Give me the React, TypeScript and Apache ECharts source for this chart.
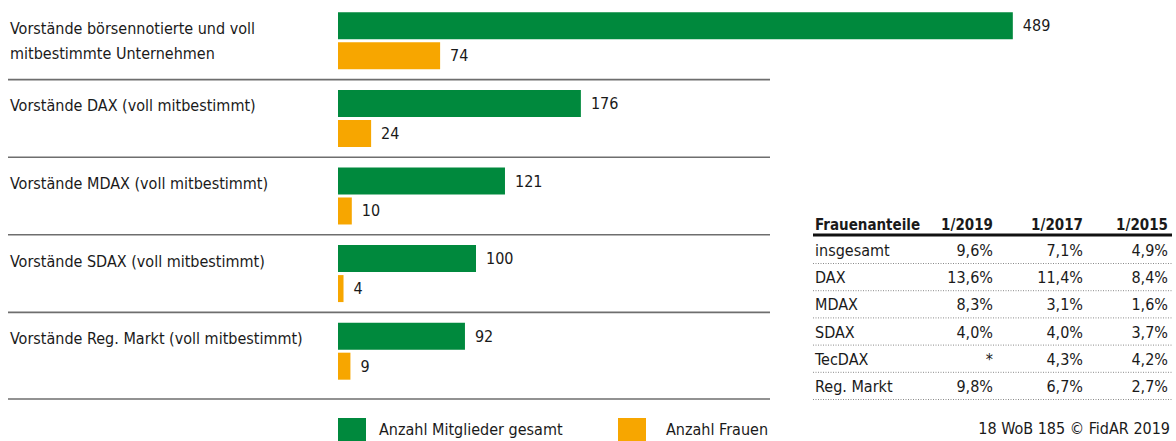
import React, { useEffect, useRef } from "react";
import * as echarts from "echarts";

const categories = [
  "Vorstände börsennotierte und voll\nmitbestimmte Unternehmen",
  "Vorstände DAX (voll mitbestimmt)",
  "Vorstände MDAX (voll mitbestimmt)",
  "Vorstände SDAX (voll mitbestimmt)",
  "Vorstände Reg. Markt (voll mitbestimmt)",
];
const totalMembers = [489, 176, 121, 100, 92];
const womenMembers = [74, 24, 10, 4, 9];
const seriesNames = ["Anzahl Mitglieder gesamt", "Anzahl Frauen"];

const tableHeaders = ["Frauenanteile", "1/2019", "1/2017", "1/2015"];
const tableIndices = ["insgesamt", "DAX", "MDAX", "SDAX", "TecDAX", "Reg. Markt"];
const share2019 = ["9,6%", "13,6%", "8,3%", "4,0%", "*", "9,8%"];
const share2017 = ["7,1%", "11,4%", "3,1%", "4,0%", "4,3%", "6,7%"];
const share2015 = ["4,9%", "8,4%", "1,6%", "3,7%", "4,2%", "2,7%"];
const sourceNote = "18 WoB 185 © FidAR 2019";

const FONT = "'DejaVu Sans Condensed', 'Liberation Sans Narrow', sans-serif";
const GREEN = "#00893d";
const ORANGE = "#f7a600";
const TEXT = "#1a1a1a";

export default function App() {
  const ref = useRef<HTMLDivElement>(null);
  useEffect(() => {
    if (!ref.current) return;
    const chart = echarts.init(ref.current, undefined, { renderer: "svg" });
    const gridTop = 2;
    const gridHeight = 388;
    const band = gridHeight / categories.length;

    const graphics: any[] = [];
    // separators
    for (let i = 1; i <= categories.length; i++) {
      const y = i === categories.length ? gridTop + i * band + 9 : gridTop + i * band;
      graphics.push({
        type: "line",
        shape: { x1: 8, y1: y, x2: 770, y2: y },
        style: { stroke: "#6e6e6e", lineWidth: 1.6 },
      });
    }
    // table
    const colRight = [993, 1083, 1168];
    const headerY = 225;
    graphics.push({
      type: "text",
      x: 815,
      y: headerY,
      style: { text: tableHeaders[0], font: `bold 15px ${FONT}`, fill: TEXT, verticalAlign: "middle", align: "left" },
    });
    for (let c = 0; c < 3; c++) {
      graphics.push({
        type: "text",
        x: colRight[c],
        y: headerY,
        style: { text: tableHeaders[c + 1], font: `bold 15px ${FONT}`, fill: TEXT, verticalAlign: "middle", align: "right" },
      });
    }
    graphics.push({
      type: "line",
      shape: { x1: 813, y1: 235, x2: 1172, y2: 235 },
      style: { stroke: "#111", lineWidth: 3 },
    });
    const rowH = 27.2;
    const cols = [share2019, share2017, share2015];
    tableIndices.forEach((name, r) => {
      const cy = 250.5 + r * rowH;
      graphics.push({
        type: "text",
        x: 815,
        y: cy,
        style: { text: name, font: `16px ${FONT}`, fill: TEXT, verticalAlign: "middle", align: "left" },
      });
      cols.forEach((col, c) => {
        graphics.push({
          type: "text",
          x: colRight[c],
          y: cy,
          style: { text: col[r], font: `16px ${FONT}`, fill: TEXT, verticalAlign: "middle", align: "right" },
        });
      });
      const ly = cy + 13;
      graphics.push({
        type: "line",
        shape: { x1: 813, y1: ly, x2: 1172, y2: ly },
        style: { stroke: "#8a8a8a", lineWidth: 1, lineDash: [1, 1.5] },
      });
    });
    graphics.push({
      type: "text",
      x: 1170,
      y: 428,
      style: { text: sourceNote, font: `16px ${FONT}`, fill: TEXT, verticalAlign: "middle", align: "right" },
    });

    const labelStyle = {
      show: true,
      position: "right" as const,
      distance: 10,
      color: TEXT,
      fontFamily: FONT,
      fontSize: 16,
    };

    chart.setOption({
      animation: false,
      grid: { left: 338, top: gridTop, width: 828, height: gridHeight, containLabel: false },
      xAxis: {
        type: "value",
        min: 0,
        max: 600,
        show: false,
      },
      yAxis: {
        type: "category",
        inverse: true,
        data: categories,
        axisLine: { show: false },
        axisTick: { show: false },
        splitLine: { show: false },
        axisLabel: {
          align: "left",
          margin: 328,
          color: TEXT,
          fontFamily: FONT,
          fontSize: 16,
          lineHeight: 25,
          verticalAlign: "middle",
          formatter: (v: string) => (v.includes("\n") ? v : v + "\n "),
        },
      },
      legend: [
        {
          data: [seriesNames[0]],
          left: 338,
          top: 418,
          padding: 0,
          icon: "rect",
          itemWidth: 28,
          itemHeight: 23,
          selectedMode: false,
          textStyle: { color: TEXT, fontFamily: FONT, fontSize: 16, padding: [0, 0, 0, 8] },
        },
        {
          data: [seriesNames[1]],
          left: 618,
          top: 418,
          padding: 0,
          icon: "rect",
          itemWidth: 28,
          itemHeight: 23,
          selectedMode: false,
          textStyle: { color: TEXT, fontFamily: FONT, fontSize: 16, padding: [0, 0, 0, 15] },
        },
      ],
      series: [
        {
          name: seriesNames[0],
          type: "bar",
          data: totalMembers,
          barWidth: 27,
          barGap: "11%",
          itemStyle: { color: GREEN },
          label: labelStyle,
        },
        {
          name: seriesNames[1],
          type: "bar",
          data: womenMembers,
          barWidth: 27,
          itemStyle: { color: ORANGE },
          label: labelStyle,
        },
      ],
      graphic: graphics,
    });
    return () => chart.dispose();
  }, []);
  return (
    <div
      ref={ref}
      style={{ position: "fixed", left: 0, top: 0, width: 1176, height: 441, background: "#fff" }}
    />
  );
}
